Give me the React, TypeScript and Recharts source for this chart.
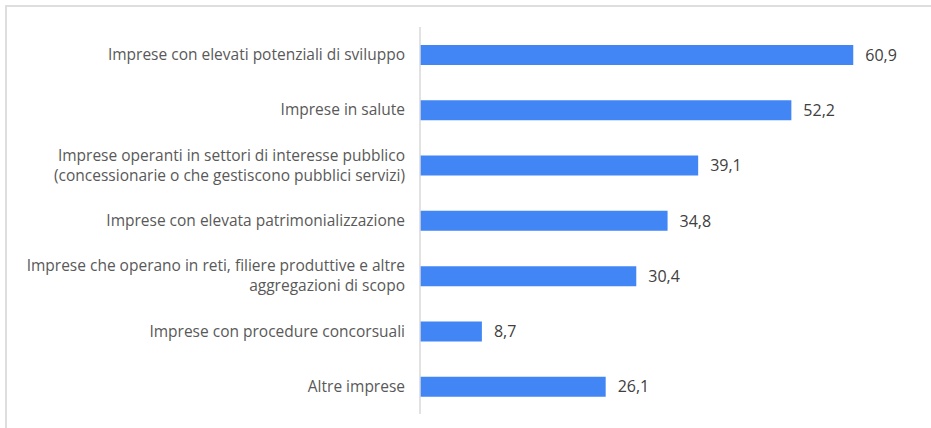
import { BarChart, Bar, XAxis, YAxis, LabelList } from "recharts";

const categories = [
  "Imprese con elevati potenziali di sviluppo",
  "Imprese in salute",
  "Imprese operanti in settori di interesse pubblico\n(concessionarie o che gestiscono pubblici servizi)",
  "Imprese con elevata patrimonializzazione",
  "Imprese che operano in reti, filiere produttive e altre\naggregazioni di scopo",
  "Imprese con procedure concorsuali",
  "Altre imprese",
];

const values = [60.9, 52.2, 39.1, 34.8, 30.4, 8.7, 26.1];

const data = categories.map((name, i) => ({ name, value: values[i] }));

const FONT = "'Open Sans', sans-serif";

const CategoryTick = (props: any) => {
  const { x, y, payload } = props;
  const lines: string[] = String(payload.value).split("\n");
  const lineHeight = 20;
  const start = -((lines.length - 1) * lineHeight) / 2;
  return (
    <g transform={`translate(${x - 7},${y})`}>
      {lines.map((line, i) => (
        <text
          key={i}
          x={0}
          y={start + i * lineHeight}
          dy="0.35em"
          textAnchor="end"
          fill="#595959"
          fontSize={15.5}
          fontFamily={FONT}
        >
          {line}
        </text>
      ))}
    </g>
  );
};

const fmt = (v: any) => String(v).replace(".", ",");

export default function App() {
  return (
    <div style={{ position: "absolute", left: 0, top: 0, width: 931, height: 428, background: "#fff" }}>
      <div
        style={{
          position: "absolute",
          left: 5,
          top: 5,
          width: 926,
          height: 423,
          borderTop: "2px solid #dedede",
          borderLeft: "2px solid #dedede",
          boxSizing: "border-box",
        }}
      />
      <BarChart
        width={931}
        height={428}
        data={data}
        layout="vertical"
        margin={{ top: 27, right: 13, bottom: 14, left: 0 }}
        style={{ position: "absolute", left: 0, top: 0 }}
      >
        <XAxis type="number" domain={[0, 70]} hide />
        <YAxis
          type="category"
          dataKey="name"
          width={420}
          axisLine={{ stroke: "#d9d9d9", strokeWidth: 1.5 }}
          tickLine={false}
          tick={<CategoryTick />}
          interval={0}
        />
        <Bar dataKey="value" fill="#4285F4" barSize={20} isAnimationActive={false}>
          <LabelList
            dataKey="value"
            position="right"
            offset={12}
            formatter={fmt}
            fill="#404040"
            fontSize={16}
            fontFamily={FONT}
          />
        </Bar>
      </BarChart>
    </div>
  );
}
